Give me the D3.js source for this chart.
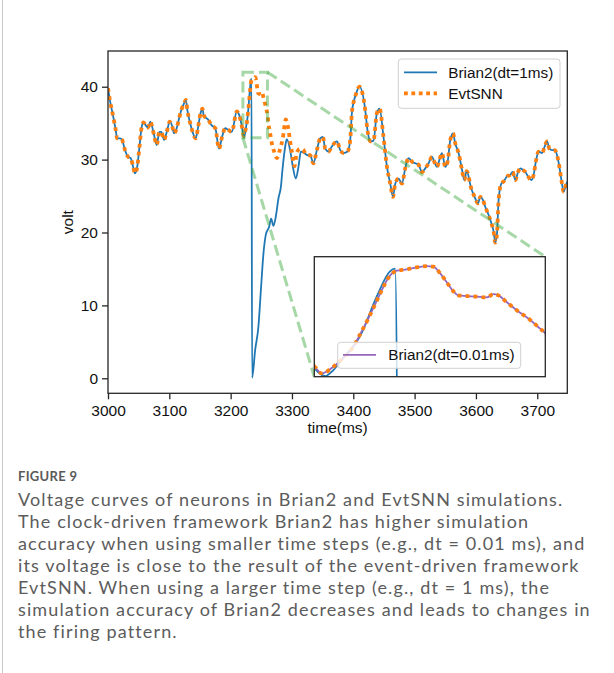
<!DOCTYPE html>
<html>
<head>
<meta charset="utf-8">
<script src="https://cdn.jsdelivr.net/npm/d3@7"></script>
<style>
  html, body { margin: 0; padding: 0; background: #fff; }
  svg { display: block; }
</style>
</head>
<body>
<svg id="chart" width="614" height="673"></svg>
<script>
// ---------------- DATA ----------------
const xTicks = [3000, 3100, 3200, 3300, 3400, 3500, 3600, 3700];
const yTicks = [0, 10, 20, 30, 40];

// Brian2 (dt = 1 ms): time (ms) and voltage
const brianT = [3000,3003,3009,3012.5,3015,3019.6,3023,3027,3032.6,3037,3041,3044,3048,3051,3055,3058,3061.5,3065,3069,3075,3079.5,3083.7,3087,3091.4,3095.8,3100.7,3105,3107.7,3112,3116,3120,3124,3127,3129.4,3134,3138,3143,3147,3151,3154,3156,3164,3169,3175,3181,3186,3191,3196,3202,3210,3214,3218,3221.9,3223.3,3225,3228,3230.8,3233.1,3234,3235,3240,3245.3,3249.7,3253.5,3257.4,3262.8,3266,3269.8,3273.7,3278,3282,3284.5,3289,3291.6,3297,3301.5,3306.3,3310.6,3314.5,3320,3325.3,3329.7,3335,3340.6,3346,3350.4,3354.2,3359.6,3365,3373.3,3378.7,3384,3390.6,3395,3397.7,3401.5,3404.8,3410,3419.5,3423,3428.5,3433,3438.5,3442.8,3449.3,3454.9,3460.3,3464.7,3468.4,3473.8,3479.4,3484.7,3490.1,3495.7,3501.1,3506.4,3512,3517.4,3522.8,3528.3,3532.1,3536.5,3540.2,3544.6,3550,3553.8,3558.2,3562.6,3566.3,3571.7,3577.3,3581,3584.9,3592.5,3597.8,3603.4,3607.1,3611.2,3615.3,3620.7,3625.1,3628.9,3631.6,3634.4,3637,3641.4,3645.2,3650.7,3656.1,3659.9,3664.3,3668.7,3672.4,3676.2,3680.6,3685,3690.4,3694.1,3698.1,3702.3,3707.8,3712.1,3716,3719.8,3724.2,3728.4,3732.3,3736.1,3739.4,3743.1,3745.9,3749];
const brianV = [39.8,38.2,35.7,34.1,32.9,32.9,32.7,31.5,30.4,30.2,29.0,28.1,29.2,31.5,34.5,35.1,34.7,34.4,35.2,33.4,32.0,33.8,33.8,32.7,33.8,35.2,34.5,33.6,34.3,35.7,36.9,37.7,38.2,36.8,35.0,33.8,32.9,34.5,36.4,37.0,36.1,35.4,34.7,34.3,31.5,33.1,34.3,34.1,33.8,36.6,36.1,34.7,33.05,33.5,34.4,36.1,39.0,40.9,41.1,0.1,3.9,7.1,12.6,17.1,19.7,20.8,21.9,20.9,22.2,24.7,26.3,28.6,31.8,32.8,31.3,29.0,27.4,29.0,31.1,30.9,30.6,30.6,29.5,31.3,32.9,33.1,31.5,31.1,31.8,32.5,31.3,30.9,31.1,32.7,36.4,38.2,39.1,40.0,36.8,34.1,32.5,32.6,36.4,37.0,33.1,29.0,26.7,24.9,26.7,27.4,26.7,28.8,30.2,29.7,29.5,29.3,28.3,28.8,29.5,30.4,29.7,29.0,29.9,30.9,29.0,29.7,32.7,33.6,32.2,30.9,28.6,27.2,28.4,26.0,24.9,24.0,24.9,24.5,23.5,22.4,21.3,20.1,18.6,19.9,24.5,26.7,27.0,27.7,27.9,28.3,27.2,28.3,28.8,28.6,28.3,27.7,27.2,27.9,29.9,31.1,30.9,31.8,32.5,31.5,31.3,31.3,30.6,29.0,27.2,25.6,26.3,27.0];

// EvtSNN (event-driven): time (ms) and voltage
const evtT = [3000,3003,3009,3012.5,3015,3019.6,3023,3027,3032.6,3037,3041,3044,3048,3051,3055,3058,3061.5,3065,3069,3075,3079.5,3083.7,3087,3091.4,3095.8,3100.7,3105,3107.7,3112,3116,3120,3124,3127,3129.4,3134,3138,3143,3147,3151,3154,3156,3164,3169,3175,3181,3186,3191,3196,3202,3210,3214,3218,3220,3221.3,3223.3,3225,3226.75,3228.2,3229.4,3230.5,3231.7,3232.8,3234.3,3236,3237.7,3239.5,3240.6,3241.8,3242.9,3244.1,3244.9,3246.4,3248.1,3249.9,3251,3251.9,3253.3,3255,3257.4,3259.1,3260,3261.6,3264.4,3267.2,3271,3275.3,3280.7,3285,3290,3294.3,3297,3299.8,3304,3308,3313,3318,3322,3325.3,3329.7,3335,3340.6,3346,3350.4,3354.2,3359.6,3365,3373.3,3378.7,3384,3390.6,3395,3397.7,3401.5,3404.8,3410,3419.5,3423,3428.5,3433,3438.5,3442.8,3449.3,3454.9,3460.3,3464.7,3468.4,3473.8,3479.4,3484.7,3490.1,3495.7,3501.1,3506.4,3512,3517.4,3522.8,3528.3,3532.1,3536.5,3540.2,3544.6,3550,3553.8,3558.2,3562.6,3566.3,3571.7,3577.3,3581,3584.9,3592.5,3597.8,3603.4,3607.1,3611.2,3615.3,3620.7,3625.1,3628.9,3631.6,3634.4,3637,3641.4,3645.2,3650.7,3656.1,3659.9,3664.3,3668.7,3672.4,3676.2,3680.6,3685,3690.4,3694.1,3698.1,3702.3,3707.8,3712.1,3716,3719.8,3724.2,3728.4,3732.3,3736.1,3739.4,3743.1,3745.9,3749];
const evtV = [39.8,38.2,35.7,34.1,32.9,32.9,32.7,31.5,30.4,30.2,29.0,28.1,29.2,31.5,34.5,35.1,34.7,34.4,35.2,33.4,32.0,33.8,33.8,32.7,33.8,35.2,34.5,33.6,34.3,35.7,36.9,37.7,38.2,36.8,35.0,33.8,32.9,34.5,36.4,37.0,36.1,35.4,34.7,34.3,31.5,33.1,34.3,34.1,33.8,36.6,36.1,34.7,33.8,33.25,33.75,34.4,35.25,36.4,37.4,38.4,39.5,40.4,40.95,41.05,41.2,41.3,41.25,40.75,40.1,39.4,39.1,39.05,39.0,38.95,39.2,39.1,38.6,38.0,37.25,36.6,36.25,35.0,33.6,32.2,31.1,30.2,31.5,32.9,35.5,34.1,32.5,31.1,29.1,31.0,31.5,31.4,30.8,30.6,30.6,29.5,31.3,32.9,33.1,31.5,31.1,31.8,32.5,31.3,30.9,31.1,32.7,36.4,38.2,39.1,40.0,36.8,34.1,32.5,32.6,36.4,37.0,33.1,29.0,26.7,24.9,26.7,27.4,26.7,28.8,30.2,29.7,29.5,29.3,28.3,28.8,29.5,30.4,29.7,29.0,29.9,30.9,29.0,29.7,32.7,33.6,32.2,30.9,28.6,27.2,28.4,26.0,24.9,24.0,24.9,24.5,23.5,22.4,21.3,20.1,18.6,19.9,24.5,26.7,27.0,27.7,27.9,28.3,27.2,28.3,28.8,28.6,28.3,27.7,27.2,27.9,29.9,31.1,30.9,31.8,32.5,31.5,31.3,31.3,30.6,29.0,27.2,25.6,26.3,27.0];

// Brian2 (dt = 0.01 ms), shown in the inset only
const fineT = [3218,3220,3221.3,3223.3,3225,3226.75,3228.2,3229.4,3230.5,3231.7,3232.8,3234.3,3236,3237.7,3239.5,3240.6,3241.8,3242.9,3244.1,3244.9,3246.4,3248.1,3249.9,3251,3251.9,3253.3,3255,3257.4,3259.1,3260,3262];
const fineV = [34.7,33.8,33.25,33.75,34.4,35.25,36.4,37.4,38.4,39.5,40.4,40.95,41.05,41.2,41.3,41.25,40.75,40.1,39.4,39.1,39.05,39.0,38.95,39.2,39.1,38.6,38.0,37.25,36.6,36.25,35.0];

// zoom window (ms, volt)
const zoomX = [3220, 3260];
const zoomY = [33, 42];

const legendMain = ["Brian2(dt=1ms)", "EvtSNN"];
const legendInset = ["Brian2(dt=0.01ms)"];
const captionTitle = "FIGURE 9";
const captionLines = [
  "Voltage curves of neurons in Brian2 and EvtSNN simulations.",
  "The clock-driven framework Brian2 has higher simulation",
  "accuracy when using smaller time steps (e.g., dt = 0.01 ms), and",
  "its voltage is close to the result of the event-driven framework",
  "EvtSNN. When using a larger time step (e.g., dt = 1 ms), the",
  "simulation accuracy of Brian2 decreases and leads to changes in",
  "the firing pattern."
];

// ---------------- DRAW ----------------
const svg = d3.select("#chart");
const FONT = "'Liberation Sans', Arial, Helvetica, sans-serif";
const FS = 15.5;
const C_BLUE = "#1f77b4", C_ORANGE = "#ff7f0e", C_PURPLE = "#9467bd", C_GREEN = "#2ca02c";
const AX = "#262626";

svg.append("rect").attr("width", 614).attr("height", 673).attr("fill", "#fff");
// page frame
svg.append("line").attr("x1", 2.5).attr("x2", 2.5).attr("y1", 0).attr("y2", 673)
   .attr("stroke", "#c8c8c8").attr("stroke-width", 1);

const L = 108, R = 567.3, T = 51, B = 393.3;
const x = d3.scaleLinear().domain([3000, 3749]).range([L, R]);
const y = d3.scaleLinear().domain([-2.06, 44.9]).range([B, T]);

const defs = svg.append("defs");
defs.append("clipPath").attr("id", "clipMain")
  .append("rect").attr("x", L).attr("y", T).attr("width", R - L).attr("height", B - T);

const line = (xs, ys, sx, sy) => d3.line()
  .x((d, i) => sx(xs[i])).y((d, i) => sy(ys[i]))
  .curve(d3.curveMonotoneX)(xs);

const gMain = svg.append("g").attr("clip-path", "url(#clipMain)");
gMain.append("path").attr("d", line(brianT, brianV, x, y))
  .attr("fill", "none").attr("stroke", C_BLUE).attr("stroke-width", 1.8);
gMain.append("path").attr("d", line(evtT, evtV, x, y))
  .attr("fill", "none").attr("stroke", C_ORANGE).attr("stroke-width", 3.8)
  .attr("stroke-dasharray", "3.8,4.2");

// axes
const xAxis = d3.axisBottom(x).tickValues(xTicks).tickSize(6).tickPadding(4).tickFormat(d3.format("d"));
const yAxis = d3.axisLeft(y).tickValues(yTicks).tickSize(6).tickPadding(4).tickFormat(d3.format("d"));
const gx = svg.append("g").attr("transform", `translate(0,${B})`).call(xAxis);
const gy = svg.append("g").attr("transform", `translate(${L},0)`).call(yAxis);
[gx, gy].forEach(g => {
  g.select(".domain").remove();
  g.selectAll(".tick line").attr("stroke", AX).attr("stroke-width", 1.3);
  g.selectAll(".tick text").attr("fill", "#111").attr("font-family", FONT).attr("font-size", FS);
});
gx.selectAll(".tick text").attr("dy", null).attr("y", 23);
gy.selectAll(".tick text").attr("x", -10);

// frame
svg.append("rect").attr("x", L).attr("y", T).attr("width", R - L).attr("height", B - T)
  .attr("fill", "none").attr("stroke", AX).attr("stroke-width", 1.3);

// labels
svg.append("text").attr("x", (L + R) / 2).attr("y", 433).attr("text-anchor", "middle")
  .attr("font-family", FONT).attr("font-size", FS).attr("fill", "#111").text("time(ms)");
svg.append("text").attr("transform", `translate(73,${(T + B) / 2}) rotate(-90)`)
  .attr("text-anchor", "middle").attr("font-family", FONT).attr("font-size", FS)
  .attr("fill", "#111").text("volt");

// inset geometry
const IL = 314.3, IR = 545.3, IT = 256.7, IB = 376.7;
const xi = d3.scaleLinear().domain(zoomX).range([IL, IR]);
const yi = d3.scaleLinear().domain(zoomY).range([IB, IT]);

// zoom indicator (rectangle + connectors)
const gZ = svg.append("g").attr("fill", "none").attr("stroke", C_GREEN)
  .attr("stroke-opacity", 0.42).attr("stroke-width", 3).attr("stroke-dasharray", "11,5");
gZ.append("rect").attr("x", x(zoomX[0])).attr("y", y(zoomY[1]))
  .attr("width", x(zoomX[1]) - x(zoomX[0])).attr("height", y(zoomY[0]) - y(zoomY[1]));
gZ.append("line").attr("x1", x(zoomX[1])).attr("y1", y(zoomY[1])).attr("x2", IR).attr("y2", IT);
gZ.append("line").attr("x1", x(zoomX[0])).attr("y1", y(zoomY[0])).attr("x2", IL).attr("y2", IB);

// inset
defs.append("clipPath").attr("id", "clipInset")
  .append("rect").attr("x", IL).attr("y", IT).attr("width", IR - IL).attr("height", IB - IT);
svg.append("rect").attr("x", IL).attr("y", IT).attr("width", IR - IL).attr("height", IB - IT).attr("fill", "#fff");
const gI = svg.append("g").attr("clip-path", "url(#clipInset)");
gI.append("path").attr("d", line(brianT, brianV, xi, yi))
  .attr("fill", "none").attr("stroke", C_BLUE).attr("stroke-width", 1.8);
gI.append("path").attr("d", line(fineT, fineV, xi, yi))
  .attr("fill", "none").attr("stroke", C_PURPLE).attr("stroke-width", 1.8);
gI.append("path").attr("d", line(evtT, evtV, xi, yi))
  .attr("fill", "none").attr("stroke", C_ORANGE).attr("stroke-width", 3.8)
  .attr("stroke-dasharray", "3.8,4.2");
svg.append("rect").attr("x", IL).attr("y", IT).attr("width", IR - IL).attr("height", IB - IT)
  .attr("fill", "none").attr("stroke", AX).attr("stroke-width", 1.3);

// inset legend
const gLI = svg.append("g");
gLI.append("rect").attr("x", 337.7).attr("y", 342.3).attr("width", 183).attr("height", 26).attr("rx", 3)
  .attr("fill", "#fff").attr("fill-opacity", 0.8).attr("stroke", "#d0d0d0").attr("stroke-width", 1);
gLI.append("line").attr("x1", 343).attr("x2", 376).attr("y1", 354.8).attr("y2", 354.8)
  .attr("stroke", C_PURPLE).attr("stroke-width", 1.8);
gLI.append("text").attr("x", 388.3).attr("y", 360.3).attr("font-family", FONT).attr("font-size", 15.3)
  .attr("fill", "#111").text(legendInset[0]);

// main legend
const gL = svg.append("g");
gL.append("rect").attr("x", 398.3).attr("y", 59).attr("width", 161.7).attr("height", 49.3).attr("rx", 3)
  .attr("fill", "#fff").attr("fill-opacity", 0.8).attr("stroke", "#d0d0d0").attr("stroke-width", 1);
gL.append("line").attr("x1", 404).attr("x2", 437).attr("y1", 72.3).attr("y2", 72.3)
  .attr("stroke", C_BLUE).attr("stroke-width", 1.8);
gL.append("line").attr("x1", 404).attr("x2", 437).attr("y1", 93.3).attr("y2", 93.3)
  .attr("stroke", C_ORANGE).attr("stroke-width", 3.8).attr("stroke-dasharray", "3.8,3.6");
gL.append("text").attr("x", 448.3).attr("y", 77.8).attr("font-family", FONT).attr("font-size", 15.3)
  .attr("fill", "#111").text(legendMain[0]);
gL.append("text").attr("x", 448.3).attr("y", 98.8).attr("font-family", FONT).attr("font-size", 15.3)
  .attr("fill", "#111").text(legendMain[1]);

// caption
const CF = "Lato, 'Open Sans', sans-serif";
svg.append("text").attr("x", 18).attr("y", 481).attr("font-family", CF).attr("font-weight", 700)
  .attr("font-size", 13).attr("fill", "#5a5a5a").attr("letter-spacing", 0.3).text(captionTitle);
const capG = svg.append("g").attr("font-family", CF).attr("font-size", 18).attr("fill", "#5c5c5c");
const capTexts = capG.selectAll("text").data(captionLines).join("text")
  .attr("x", 18).attr("y", (d, i) => 506 + i * 22).text(d => d);
const n6 = capTexts.nodes()[5];
const wLong = n6.getComputedTextLength();
const ls = Math.max(0, (572 - wLong) / (captionLines[5].length - 1));
capG.attr("letter-spacing", ls.toFixed(3));
</script>
</body>
</html>
